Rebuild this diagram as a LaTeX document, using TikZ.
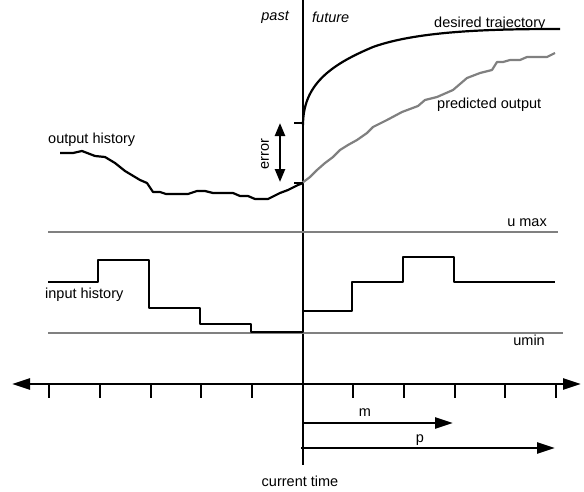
\documentclass[tikz,border=0pt]{standalone}
\usepackage{fontspec}
\setmainfont{Liberation Sans}
\usetikzlibrary{arrows.meta}
\definecolor{trackgray}{HTML}{808080}
\begin{document}
\begin{tikzpicture}[x=1pt,y=-1pt,
  lbl/.style={inner sep=0pt,font=\fontsize{14.5}{17}\selectfont},
  blackline/.style={line width=2.2pt,black,line join=round},
  grayline/.style={line width=2.2pt,trackgray,line join=round},
  bigtip/.style={-{Triangle[length=18pt,width=11pt]}},
  ticklbl/.style={line width=2.4pt}]
\useasboundingbox (0,0) rectangle (584,491);

% current time axis
\coordinate (nowtop) at (303,0);
\coordinate (nowbot) at (303,465);
\draw[line width=2.6pt] (nowtop) -- (nowbot);

% labels at the top
\node[lbl,font=\fontsize{14.5}{17}\selectfont\itshape,anchor=east] (past) at (289,17) {past};
\node[lbl,font=\fontsize{14.5}{17}\selectfont\itshape,anchor=west] (future) at (312,17) {future};

% desired trajectory
\draw[blackline] (303,125) .. controls (303,85) and (330,65) .. (373,47)
  .. controls (420,30) and (500,29) .. (560,29);
\node[lbl,anchor=base west] (desired) at (434,27) {desired trajectory};

% predicted output
\draw[grayline] (302,183) -- (310,177) -- (317,170) -- (325,163) -- (333,157)
  -- (340,150) -- (348,145) -- (357,140) -- (367,133) -- (373,127) -- (387,120)
  -- (402,112) -- (418,106) -- (425,100) -- (437,97) -- (453,90) -- (467,78)
  -- (480,73) -- (492,70) -- (497,62) -- (503,62) -- (510,60) -- (520,60)
  -- (527,57) -- (547,57) -- (555,53);
\node[lbl,anchor=base west] (predicted) at (437,108) {predicted output};

% output history
\draw[blackline] (60,153) -- (73,153) -- (82,151) -- (95,156) -- (105,157)
  -- (115,163) -- (125,171) -- (140,180) -- (147,183) -- (153,192) -- (160,192)
  -- (166,194) -- (188,194) -- (197,191) -- (205,191) -- (213,193) -- (233,193)
  -- (240,196) -- (248,196) -- (255,199) -- (268,199) -- (280,193) -- (288,190)
  -- (298,185) -- (303,183);
\node[lbl,anchor=base west] (outhist) at (48,143) {output history};

% error marker
\coordinate (errtop) at (303,123);
\coordinate (errbot) at (303,183);
\draw[ticklbl] (errtop) -- ++(-9,0);
\draw[ticklbl] (errbot) -- ++(-9,0);
\coordinate (errA) at (280,123);
\coordinate (errB) at (280,182);
\draw[line width=2.4pt,{Triangle[length=13pt,width=10pt]}-{Triangle[length=13pt,width=10pt]}] (errA) -- (errB);
\node[lbl,rotate=90] (error) at (265,154) {error};

% input limits
\coordinate (umaxL) at (48,232);
\coordinate (umaxR) at (558,232);
\draw[grayline] (umaxL) -- (umaxR);
\node[lbl,anchor=base east] (umax) at (547,226) {u max};

\coordinate (uminL) at (48,333);
\coordinate (uminR) at (563,333);
\draw[grayline] (uminL) -- (uminR);
\node[lbl,anchor=base east] (umin) at (545,345) {umin};

% input history and planned moves
\draw[blackline] (48,282) -- (98,282) -- (98,260) -- (149,260) -- (149,308)
  -- (200,308) -- (200,324) -- (251,324) -- (251,332) -- (303,332)
  -- (303,311) -- (352,311) -- (352,282) -- (403,282) -- (403,257)
  -- (454,257) -- (454,282) -- (555,282);
\node[lbl,anchor=base west] (inhist) at (45,298) {input history};

% time axis with ticks
\coordinate (axL) at (12,384);
\coordinate (axR) at (581,384);
\draw[line width=2.4pt,{Triangle[length=18pt,width=11pt]}-{Triangle[length=18pt,width=11pt]}] (axL) -- (axR);
\foreach \tx in {49,100,151,201,252,353,404,455,505,556}
  \draw[line width=2.4pt] (\tx,384) -- (\tx,398);

% control and prediction horizons
\coordinate (mstart) at (303,423);
\coordinate (mend) at (453,423);
\draw[line width=2.4pt,bigtip] (mstart) -- (mend);
\node[lbl] (mlbl) at (365,413) {m};

\coordinate (pstart) at (301,448);
\coordinate (pend) at (555,448);
\draw[line width=2.4pt,bigtip] (pstart) -- (pend);
\node[lbl] (plbl) at (420,440) {p};

\node[lbl] (now) at (300,481) {current time};
\end{tikzpicture}
\end{document}
